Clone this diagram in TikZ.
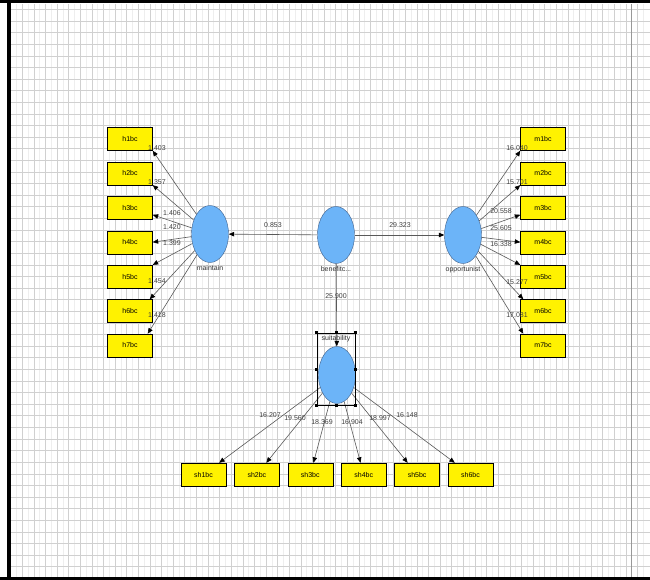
\documentclass[tikz,border=0pt]{standalone}
\usepackage{fontspec}
\setmainfont{Liberation Sans}
\usetikzlibrary{arrows.meta,positioning,shapes.geometric}

\definecolor{lvfill}{RGB}{108,180,248}
\definecolor{lvdraw}{RGB}{62,96,140}
\definecolor{gridmajor}{RGB}{208,208,208}
\definecolor{gridminor}{RGB}{238,238,238}

\begin{document}
\begin{tikzpicture}[%
    x=1pt, y=-1pt,                % pixel like units, y going down
    >={Triangle[length=5.5pt,width=4.5pt,color=black]},
    node distance=11pt,           % gap between stacked indicators
    every node/.style={font=\fontsize{7}{8}\selectfont},
    ]

\tikzset{
    ind/.style={draw=black, fill=yellow, rectangle, minimum width=45pt, minimum height=23pt, inner sep=0pt},
    lat/.style={draw=lvdraw, fill=lvfill, ellipse, minimum width=37pt, minimum height=57pt, inner sep=0pt},
    lvlabel/.style={text=black!80, inner sep=1pt},
    wt/.style={text=black!75, inner sep=0.5pt},
    loading/.style={->, draw=black!65, semithick},
    grip/.style={fill=black, rectangle, minimum size=3pt, inner sep=0pt},
    selbox/.style={draw=black, thin, minimum width=38pt, minimum height=72pt, inner sep=0pt},
}

\useasboundingbox (0,0) rectangle (650,580);
\fill[white] (0,0) rectangle (650,580);

%% Background grid
\foreach \gx in {0,...,54}
    \draw[gridminor] ({16.3+11.61*\gx},4) -- ({16.3+11.61*\gx},577);
\foreach \gx in {0,...,54}
    \draw[gridmajor] ({10.5+11.61*\gx},4) -- ({10.5+11.61*\gx},577);
\foreach \gy in {0,...,48}
    \draw[gridmajor] (10,{9.3+11.61*\gy}) -- (650,{9.3+11.61*\gy});
\draw[black!40] (631.5,4) -- (631.5,577);

%% Frame
\fill[black] (0,0) rectangle (650,3.3);
\fill[black] (7.3,0) rectangle (10.7,580);
\fill[black] (0,576.7) rectangle (650,580);

%% Latent variables
\node [lat] (maintain) at (210,234) {};
\node [lvlabel, below=2pt of maintain] (maintaintxt) {maintain};
\node [lat] (benefit) at (336,235) {};
\node [lvlabel, below=2pt of benefit] (benefittxt) {benefitc...};
\node [lat] (opportunist) at (463,235) {};
\node [lvlabel, below=2pt of opportunist] (opportunisttxt) {opportunist};
\node [lat] (suitability) at (337,375) {};

%% Left indicators
\node [ind] (h1bc) at (130,139) {h1bc};
\node [ind, below=of h1bc] (h2bc) {h2bc};
\node [ind, below=of h2bc] (h3bc) {h3bc};
\node [ind, below=of h3bc] (h4bc) {h4bc};
\node [ind, below=of h4bc] (h5bc) {h5bc};
\node [ind, below=of h5bc] (h6bc) {h6bc};
\node [ind, below=of h6bc] (h7bc) {h7bc};

%% Right indicators
\node [ind] (m1bc) at (543,139) {m1bc};
\node [ind, below=of m1bc] (m2bc) {m2bc};
\node [ind, below=of m2bc] (m3bc) {m3bc};
\node [ind, below=of m3bc] (m4bc) {m4bc};
\node [ind, below=of m4bc] (m5bc) {m5bc};
\node [ind, below=of m5bc] (m6bc) {m6bc};
\node [ind, below=of m6bc] (m7bc) {m7bc};

%% Bottom indicators
\node [ind] (sh1bc) at (203.5,474.5) {sh1bc};
\node [ind, right=8pt of sh1bc] (sh2bc) {sh2bc};
\node [ind, right=8pt of sh2bc] (sh3bc) {sh3bc};
\node [ind, right=8pt of sh3bc] (sh4bc) {sh4bc};
\node [ind, right=8pt of sh4bc] (sh5bc) {sh5bc};
\node [ind, right=8pt of sh5bc] (sh6bc) {sh6bc};

%% Structural paths
\draw[loading] (benefit) -- (maintain);
\draw[loading] (benefit) -- (opportunist);
\draw[loading] (benefit) -- (suitability);
\node [wt] (p1) at (273,225) {0.853};
\node [wt] (p2) at (400,225) {29.323};
\node [wt] (p3) at (336,296) {25.900};

%% Loadings maintain
\draw[loading] (maintain) -- (h1bc.south east);
\draw[loading] (maintain) -- (h2bc.south east);
\draw[loading] (maintain) -- ([yshift=-7pt]h3bc.east);
\draw[loading] (maintain) -- (h4bc.east);
\draw[loading] (maintain) -- (h5bc.north east);
\draw[loading] (maintain) -- ([xshift=-3pt]h6bc.north east);
\draw[loading] (maintain) -- ([xshift=-5pt]h7bc.north east);
\node [wt] (l1) at (157,148) {1.403};
\node [wt] (l2) at (157,182) {1.357};
\node [wt] (l3) at (172,213) {1.406};
\node [wt] (l4) at (172,227) {1.420};
\node [wt] (l5) at (172,243) {1.399};
\node [wt] (l6) at (157,281) {1.454};
\node [wt] (l7) at (157,315) {1.418};

%% Loadings opportunist
\draw[loading] (opportunist) -- (m1bc.south west);
\draw[loading] (opportunist) -- (m2bc.south west);
\draw[loading] (opportunist) -- ([yshift=-7pt]m3bc.west);
\draw[loading] (opportunist) -- (m4bc.west);
\draw[loading] (opportunist) -- (m5bc.north west);
\draw[loading] (opportunist) -- ([xshift=3pt]m6bc.north west);
\draw[loading] (opportunist) -- ([xshift=3pt]m7bc.north west);
\node [wt] (r1) at (517,148) {16.040};
\node [wt] (r2) at (517,182) {15.701};
\node [wt] (r3) at (501,211) {20.558};
\node [wt] (r4) at (501,228) {25.605};
\node [wt] (r5) at (501,244) {16.338};
\node [wt] (r6) at (517,282) {15.277};
\node [wt] (r7) at (517,315) {17.081};

%% Loadings suitability
\draw[loading] (suitability) -- (sh1bc);
\draw[loading] (suitability) -- (sh2bc);
\draw[loading] (suitability) -- (sh3bc);
\draw[loading] (suitability) -- (sh4bc);
\draw[loading] (suitability) -- (sh5bc);
\draw[loading] (suitability) -- (sh6bc);
\node [wt] (b1) at (270,415) {16.207};
\node [wt] (b2) at (295,418) {19.560};
\node [wt] (b3) at (322,422) {18.369};
\node [wt] (b4) at (352,422) {16.904};
\node [wt] (b5) at (380,418) {18.997};
\node [wt] (b6) at (407,415) {16.148};

%% Selection frame round suitability
\node [selbox] (sel) at (336,369) {};
\node [lvlabel, anchor=north] (suittxt) at ([yshift=-1.5pt]sel.north) {suitability};
\foreach \a in {north west,north,north east,west,east,south west,south,south east}
    \node [grip] (grip \a) at (sel.\a) {};
\end{tikzpicture}
\end{document}
